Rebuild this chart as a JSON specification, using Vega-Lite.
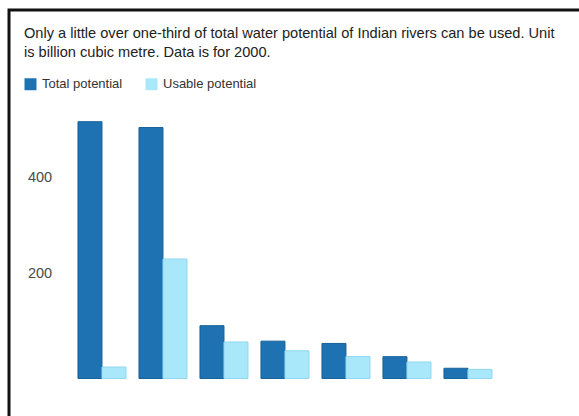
{
  "$schema": "https://vega.github.io/schema/vega-lite/v6.json",
  "autosize": {"type": "none"},
  "padding": {"left": 9, "top": 10, "right": 0, "bottom": 0},
  "width": 591,
  "height": 430,
  "background": "white",
  "title": {
    "text": [
      "Only a little over one-third of total water potential of Indian rivers can be used. Unit",
      "is billion cubic metre. Data is for 2000."
    ],
    "anchor": "start",
    "orient": "top",
    "frame": "group",
    "baseline": "top",
    "offset": 0,
    "dx": 15,
    "dy": 50,
    "font": "Liberation Sans",
    "fontSize": 14.6,
    "fontWeight": "normal",
    "color": "#222222",
    "lineHeight": 19.5
  },
  "layer": [
    {
      "data": {
        "values": [
          {"river": "Brahmaputra", "series": "Total potential", "bcm": 537.2},
          {"river": "Brahmaputra", "series": "Usable potential", "bcm": 24.0},
          {"river": "Ganga", "series": "Total potential", "bcm": 525.0},
          {"river": "Ganga", "series": "Usable potential", "bcm": 250.0},
          {"river": "Godavari", "series": "Total potential", "bcm": 110.5},
          {"river": "Godavari", "series": "Usable potential", "bcm": 76.3},
          {"river": "Krishna", "series": "Total potential", "bcm": 78.1},
          {"river": "Krishna", "series": "Usable potential", "bcm": 58.0},
          {"river": "Indus", "series": "Total potential", "bcm": 73.3},
          {"river": "Indus", "series": "Usable potential", "bcm": 46.0},
          {"river": "Narmada", "series": "Total potential", "bcm": 45.6},
          {"river": "Narmada", "series": "Usable potential", "bcm": 34.5},
          {"river": "Cauvery", "series": "Total potential", "bcm": 21.4},
          {"river": "Cauvery", "series": "Usable potential", "bcm": 19.0}
        ]
      },
      "mark": {"type": "bar", "strokeWidth": 1},
      "encoding": {
        "x": {
          "field": "river",
          "type": "nominal",
          "scale": {
            "domain": [" ", "Brahmaputra", "Ganga", "Godavari", "Krishna", "Indus", "Narmada", "Cauvery", "  "],
            "paddingInner": 0.213,
            "paddingOuter": 0.451,
            "align": 0.145
          },
          "axis": {
            "title": null,
            "orient": "bottom",
            "offset": -61.5,
            "labelAngle": 0,
            "ticks": false,
            "tickSize": 0,
            "labelPadding": 7,
            "labelOffset": {"condition": {"test": "datum.value === 'Brahmaputra'", "value": 10}, "value": 0},
            "labelFont": "Liberation Sans",
            "labelFontSize": 14,
            "labelColor": "#444444",
            "labelOverlap": false,
            "labelBound": false,
            "domainColor": "#555555",
            "domainWidth": 1.5,
            "grid": false
          }
        },
        "xOffset": {
          "field": "series",
          "type": "nominal",
          "scale": {"paddingInner": 0, "paddingOuter": 0}
        },
        "y": {
          "field": "bcm",
          "type": "quantitative",
          "stack": null,
          "scale": {"domain": [-128.7, 770.9], "nice": false, "zero": false},
          "axis": {
            "title": null,
            "values": [200, 400],
            "domain": false,
            "ticks": false,
            "labels": false,
            "gridColor": "#e4e4e4",
            "gridWidth": 1.5
          }
        },
        "y2": {"datum": 0},
        "color": {
          "field": "series",
          "type": "nominal",
          "scale": {
            "domain": ["Total potential", "Usable potential"],
            "range": ["#1f72b1", "#a9e7fb"]
          },
          "legend": {
            "title": null,
            "orient": "none",
            "legendX": 15,
            "legendY": 67.5,
            "direction": "horizontal",
            "symbolType": "square",
            "symbolSize": 144,
            "symbolStrokeWidth": 0,
            "symbolOpacity": 1,
            "labelFont": "Liberation Sans",
            "labelFontSize": 13,
            "labelColor": "#333333",
            "labelOffset": 5,
            "columnPadding": 22
          }
        },
        "stroke": {
          "field": "series",
          "type": "nominal",
          "scale": {
            "domain": ["Total potential", "Usable potential"],
            "range": ["#17619a", "#8fd7f0"]
          },
          "legend": null
        }
      }
    },
    {
      "data": {"values": [{"tick": 200}, {"tick": 400}]},
      "mark": {
        "type": "text",
        "align": "left",
        "baseline": "alphabetic",
        "dx": 11,
        "dy": -5,
        "font": "Liberation Sans",
        "fontSize": 14.5,
        "color": "#4a4a4a"
      },
      "encoding": {
        "x": {"datum": " ", "type": "nominal", "bandPosition": 0, "axis": null},
        "y": {"field": "tick", "type": "quantitative", "axis": null},
        "text": {"field": "tick", "type": "quantitative"}
      }
    }
  ],
  "config": {
    "view": {"stroke": "#111111", "strokeWidth": 3}
  }
}
